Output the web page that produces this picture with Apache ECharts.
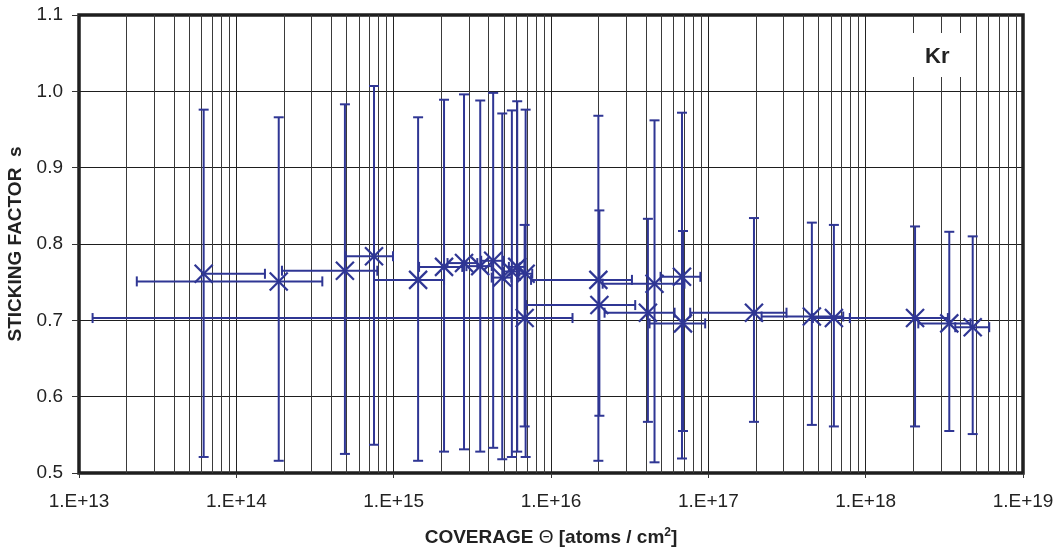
<!DOCTYPE html>
<html>
<head>
<meta charset="utf-8">
<script src="https://cdn.jsdelivr.net/npm/echarts@6/dist/echarts.min.js"></script>
<style>
  html, body { margin: 0; padding: 0; background: #ffffff; }
  #chart { width: 1060px; height: 552px; }
</style>
</head>
<body>
<div id="chart"></div>
<script>
// Krypton sticking factor vs. coverage, with measurement uncertainties
const coverage = [
  6.2e13, 1.86e14, 4.9e14, 7.5e14, 1.43e15, 2.09e15, 2.8e15, 3.55e15, 4.29e15,
  4.9e15, 5.64e15, 6.1e15, 6.9e15, 6.8e15, 2.0e16, 2.03e16, 4.55e16, 6.8e16,
  4.13e16, 6.9e16, 1.95e17, 4.55e17, 6.28e17, 2.06e18, 3.4e18, 4.79e18
];
const coverageLow = [
  null, 2.33e13, 1.95e14, 4.95e14, 7.5e14, 1.45e15, 2.2e15, 2.9e15, 3.6e15,
  4.2e15, 5.0e15, 5.4e15, 6.2e15, 1.22e13, 7.47e15, 6.94e15, 2.13e16, 4.97e16,
  2.19e16, 4.23e16, 7.67e16, 2.18e17, 4.62e17, 7.94e17, 2.16e18, 3.71e18
];
const coverageHigh = [
  1.52e14, 3.52e14, 7.87e14, 9.9e14, 2.09e15, 2.73e15, 3.4e15, 4.2e15, 5.0e15,
  5.6e15, 6.3e15, 6.8e15, 7.6e15, 1.37e16, 3.27e16, 3.43e16, 7.05e16, 8.9e16,
  6.1e16, 9.55e16, 3.14e17, 7.2e17, 7.94e17, 3.33e18, 4.64e18, 6.1e18
];
const sticking = [
  0.761, 0.751, 0.765, 0.784, 0.753, 0.770, 0.775, 0.771, 0.778,
  0.756, 0.764, 0.770, 0.761, 0.703, 0.753, 0.720, 0.748, 0.757,
  0.710, 0.696, 0.710, 0.705, 0.703, 0.703, 0.696, 0.691
];
const stickingLow = [
  0.521, 0.516, 0.525, 0.537, 0.516, 0.528, 0.531, 0.528, 0.533,
  0.518, 0.521, 0.528, 0.521, 0.561, 0.516, 0.575, 0.514, 0.519,
  0.567, 0.555, 0.567, 0.563, 0.561, 0.561, 0.555, 0.551
];
const stickingHigh = [
  0.976, 0.966, 0.983, 1.007, 0.966, 0.989, 0.996, 0.988, 0.998,
  0.971, 0.975, 0.987, 0.976, 0.825, 0.968, 0.844, 0.962, 0.972,
  0.833, 0.817, 0.834, 0.828, 0.825, 0.823, 0.816, 0.810
];
const xTickLabels = ['1.E+13', '1.E+14', '1.E+15', '1.E+16', '1.E+17', '1.E+18', '1.E+19'];
const yTickMin = 0.5, yTickMax = 1.1, yTickStep = 0.1;

const MARK_COLOR = '#2f3694';
const FONT = '"Liberation Sans", Arial, Helvetica, sans-serif';

// vertical log grid: every 2..9 x 10^n between the axis ends
const logGridValues = [];
for (let e = 13; e < 19; e++) {
  for (let d = 2; d <= 9; d++) logGridValues.push(d * Math.pow(10, e));
}

const points = coverage.map((c, i) => [
  c, sticking[i], coverageLow[i], coverageHigh[i], stickingLow[i], stickingHigh[i]
]);

function seg(x1, y1, x2, y2, style) {
  return { type: 'line', shape: { x1, y1, x2, y2 }, style };
}

function renderGridLine(params, api) {
  const v = api.value(0);
  const a = api.coord([v, yTickMin]);
  const b = api.coord([v, yTickMax]);
  const x = Math.round(a[0]) + 0.5;
  return seg(x, a[1], x, b[1], { stroke: '#3a3a3a', lineWidth: 1 });
}

function renderErrorBar(params, api) {
  const x = api.value(0), y = api.value(1);
  const xLo = api.value(2), xHi = api.value(3);
  const yLo = api.value(4), yHi = api.value(5);
  const c = api.coord([x, y]);
  const top = api.coord([x, yHi]);
  const bot = api.coord([x, yLo]);
  const right = api.coord([xHi, y]);
  const hasLeft = xLo > 0;
  const left = hasLeft ? api.coord([xLo, y]) : c;
  const cap = 5, m = 9;
  const st = { stroke: MARK_COLOR, lineWidth: 2, fill: null };
  const mk = { stroke: MARK_COLOR, lineWidth: 2.2, fill: null };
  const children = [
    seg(top[0], top[1], bot[0], bot[1], st),
    seg(top[0] - cap, top[1], top[0] + cap, top[1], st),
    seg(bot[0] - cap, bot[1], bot[0] + cap, bot[1], st),
    seg(left[0], c[1], right[0], c[1], st),
    seg(right[0], c[1] - cap, right[0], c[1] + cap, st),
    seg(c[0] - m, c[1] - m, c[0] + m, c[1] + m, mk),
    seg(c[0] - m, c[1] + m, c[0] + m, c[1] - m, mk)
  ];
  if (hasLeft) children.push(seg(left[0], c[1] - cap, left[0], c[1] + cap, st));
  return { type: 'group', children };
}

const chart = echarts.init(document.getElementById('chart'), null, { renderer: 'canvas' });

chart.setOption({
  backgroundColor: '#ffffff',
  animation: false,
  grid: {
    left: 79, right: 37, top: 15, bottom: 79,
    show: true, borderColor: '#1e1e1e', borderWidth: 3.5,
    backgroundColor: 'transparent',
    outerBoundsMode: 'none'
  },
  xAxis: {
    type: 'log', logBase: 10, min: 1e13, max: 1e19, splitNumber: 6,
    axisLine: { show: false },
    axisTick: { show: true, length: 5, lineStyle: { color: '#333', width: 1 } },
    splitLine: { show: true, lineStyle: { color: '#222', width: 1 } },
    axisLabel: {
      color: '#222', fontFamily: FONT, fontSize: 19, margin: 19,
      formatter: (v) => xTickLabels[Math.round(Math.log10(v)) - 13]
    },
    name: '{b|COVERAGE }{t|Θ}{b| [atoms / cm}{s|2}{b|]}',
    nameLocation: 'middle', nameGap: 54,
    nameTextStyle: {
      rich: {
        b: { fontFamily: FONT, fontSize: 19, fontWeight: 'bold', color: '#222' },
        t: { fontFamily: FONT, fontSize: 19, color: '#222' },
        s: { fontFamily: FONT, fontSize: 12, fontWeight: 'bold', color: '#222', verticalAlign: 'top', padding: [0, 0, 10, 0] }
      }
    }
  },
  yAxis: {
    type: 'value', min: yTickMin, max: yTickMax, interval: yTickStep,
    axisLine: { show: false },
    axisTick: { show: true, length: 7, lineStyle: { color: '#333', width: 1 } },
    splitLine: { show: true, lineStyle: { color: '#1e1e1e', width: 1 } },
    axisLabel: {
      color: '#222', fontFamily: FONT, fontSize: 19, margin: 16,
      formatter: (v) => v.toFixed(1)
    },
    name: 'STICKING FACTOR  s',
    nameLocation: 'middle', nameGap: 50,
    nameTextStyle: { fontFamily: FONT, fontSize: 19, fontWeight: 'bold', color: '#222' }
  },
  series: [
    {
      type: 'custom', name: 'grid', silent: true, z: 1,
      renderItem: renderGridLine,
      data: logGridValues.map((v) => [v])
    },
    {
      type: 'custom', name: 'Kr', z: 5,
      renderItem: renderErrorBar,
      data: points
    }
  ],
  graphic: [
    {
      type: 'rect', left: 913, top: 33, z: 10,
      shape: { width: 49, height: 44 },
      style: { fill: '#ffffff' }
    },
    {
      type: 'text', left: 925, top: 46, z: 11,
      style: { text: 'Kr', fontFamily: FONT, fontSize: 22, fontWeight: 'bold', fill: '#222' }
    }
  ]
});
</script>
</body>
</html>
